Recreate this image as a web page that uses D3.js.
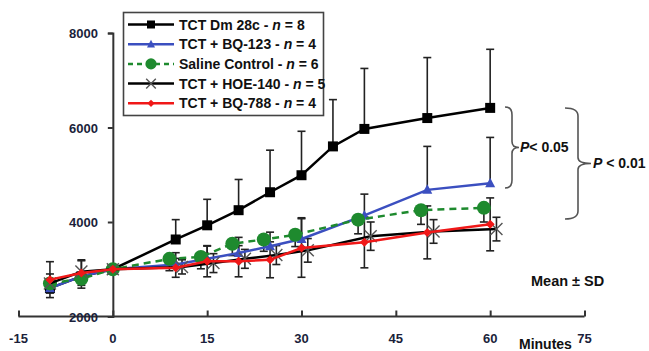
<!DOCTYPE html>
<html>
<head>
<meta charset="utf-8">
<script src="https://cdn.jsdelivr.net/npm/d3@7"></script>
<style>
  html, body { margin: 0; padding: 0; background: #fff; }
  svg text { font-family: "Liberation Sans", Arial, sans-serif; font-weight: bold; }
</style>
</head>
<body>
<svg id="chart" width="649" height="351"></svg>
<script>
// ---- data ----
const xTicks = [-15, 0, 15, 30, 45, 60, 75];
const yTicks = [2000, 4000, 6000, 8000];

const dmTimes = [-10, -5, 0, 10, 15, 20, 25, 30, 35, 40, 50, 60];
const dmValues = [2600, 2850, 3000, 3630, 3930, 4250, 4630, 4990, 5600, 5970, 6200, 6415];
const dmSD = [0, 0, 0, 420, 550, 650, 890, 930, 990, 1280, 1280, 1240];

const bq123Times = [-10, -5, 0, 10, 15, 20, 25, 30, 40, 50, 60];
const bq123Values = [2600, 2850, 3000, 3100, 3220, 3345, 3485, 3640, 4140, 4680, 4820];
const bq123SD = [0, 0, 0, 250, 270, 330, 300, 450, 450, 920, 970];

const salineTimes = [-10, -5, 0, 9, 14, 19, 24, 29, 39, 49, 59];
const salineValues = [2700, 2800, 3000, 3220, 3260, 3540, 3630, 3730, 4050, 4250, 4300];
const salineSD = [200, 200, 0, 250, 250, 250, 250, 250, 300, 300, 300];

const hoeTimes = [-10, -5, 0, 11, 16, 21, 26, 31, 41, 51, 61];
const hoeValues = [2700, 2950, 3000, 3050, 3130, 3220, 3300, 3400, 3700, 3800, 3850];
const hoeSD = [200, 250, 0, 150, 200, 200, 200, 250, 300, 250, 250];

const bq788Times = [-10, -5, 0, 10, 15, 20, 25, 30, 40, 50, 60];
const bq788Values = [2780, 2920, 3000, 3030, 3170, 3170, 3200, 3450, 3570, 3780, 3950];
const bq788SD = [380, 260, 0, 200, 330, 330, 380, 620, 540, 560, 560];

const seriesNames = ["TCT Dm 28c", "TCT + BQ-123", "Saline Control", "TCT + HOE-140", "TCT + BQ-788"];
const seriesN = [8, 4, 6, 5, 4];

// ---- series styling ----
const series = [
  { name: seriesNames[0], n: seriesN[0], t: dmTimes, v: dmValues, sd: dmSD, dir: "up",
    color: "#000", marker: "square", dash: null },
  { name: seriesNames[1], n: seriesN[1], t: bq123Times, v: bq123Values, sd: bq123SD, dir: "up",
    color: "#3b4fc0", marker: "triangle", dash: null },
  { name: seriesNames[2], n: seriesN[2], t: salineTimes, v: salineValues, sd: salineSD, dir: "down",
    color: "#1e8a2e", marker: "circle", dash: "7,5" },
  { name: seriesNames[3], n: seriesN[3], t: hoeTimes, v: hoeValues, sd: hoeSD, dir: "both",
    color: "#000", marker: "x", dash: null },
  { name: seriesNames[4], n: seriesN[4], t: bq788Times, v: bq788Values, sd: bq788SD, dir: "both",
    color: "#f01818", marker: "diamond", dash: null }
];

const svg = d3.select("#chart");
const x = d3.scaleLinear().domain([-15, 75]).range([18.5, 584.5]);
const y = d3.scaleLinear().domain([2000, 8000]).range([316.5, 33]);
const axisColor = "#333";
const labelColor = "#1b1f3b";

// ---- axes ----
const xAxis = svg.append("g").attr("transform", `translate(0,${y(2000)})`)
  .call(d3.axisTop(x).tickValues(xTicks).tickSize(6).tickFormat(""));
xAxis.select(".domain").attr("d", `M${x(-15)},0V0H${x(75)}V0`);
xAxis.selectAll("line, path").attr("stroke", axisColor).attr("stroke-width", 2);

svg.append("g").selectAll("text").data(xTicks).join("text")
  .attr("x", d => x(d)).attr("y", 343)
  .attr("text-anchor", "middle").attr("font-size", 13).attr("fill", labelColor)
  .text(d => d);

const yAxis = svg.append("g").attr("transform", `translate(${x(0)},0)`)
  .call(d3.axisLeft(y).tickValues(yTicks).tickSize(5).tickFormat(""));
yAxis.selectAll("line, path").attr("stroke", axisColor).attr("stroke-width", 2);

svg.append("g").selectAll("text").data(yTicks).join("text")
  .attr("x", 98).attr("y", d => y(d) + 5)
  .attr("text-anchor", "end").attr("font-size", 13).attr("fill", labelColor)
  .text(d => d);

svg.append("text").attr("x", 519).attr("y", 349).attr("font-size", 14).attr("fill", "#111").text("Minutes");

// ---- error bars ----
const cap = 4;
series.forEach(s => {
  const g = svg.append("g");
  s.t.forEach((t, i) => {
    if (!s.sd[i]) return;
    const cx = x(t);
    const top = s.dir === "down" ? s.v[i] : s.v[i] + s.sd[i];
    const bot = s.dir === "up" ? s.v[i] : s.v[i] - s.sd[i];
    g.append("line").attr("x1", cx).attr("x2", cx).attr("y1", y(top)).attr("y2", y(bot))
      .attr("stroke", "#222").attr("stroke-width", 1.6);
    if (s.dir !== "down")
      g.append("line").attr("x1", cx - cap).attr("x2", cx + cap).attr("y1", y(top)).attr("y2", y(top))
        .attr("stroke", "#222").attr("stroke-width", 1.6);
    if (s.dir !== "up")
      g.append("line").attr("x1", cx - cap).attr("x2", cx + cap).attr("y1", y(bot)).attr("y2", y(bot))
        .attr("stroke", "#222").attr("stroke-width", 1.6);
  });
});

// ---- markers ----
function drawMarker(g, type, cx, cy, color, scale) {
  const k = scale || 1;
  if (type === "square") {
    g.append("rect").attr("x", cx - 5 * k).attr("y", cy - 5 * k).attr("width", 10 * k).attr("height", 10 * k).attr("fill", color);
  } else if (type === "triangle") {
    g.append("path").attr("d", `M${cx},${cy - 5.5 * k}L${cx + 5 * k},${cy + 4 * k}L${cx - 5 * k},${cy + 4 * k}Z`).attr("fill", color);
  } else if (type === "circle") {
    g.append("circle").attr("cx", cx).attr("cy", cy).attr("r", 7 * k).attr("fill", color);
  } else if (type === "diamond") {
    g.append("path").attr("d", `M${cx},${cy - 4.5 * k}L${cx + 4.5 * k},${cy}L${cx},${cy + 4.5 * k}L${cx - 4.5 * k},${cy}Z`).attr("fill", color);
  } else if (type === "x") {
    const r = 6 * k;
    g.append("path").attr("d", `M${cx - r},${cy - r}L${cx + r},${cy + r}M${cx - r},${cy + r}L${cx + r},${cy - r}`)
      .attr("stroke", "#555").attr("stroke-width", 1.4).attr("fill", "none");
  }
}

// ---- lines and markers ----
const line = d3.line().x(d => x(d[0])).y(d => y(d[1]));
series.forEach(s => {
  const g = svg.append("g");
  const pts = s.t.map((t, i) => [t, s.v[i]]);
  g.append("path").datum(pts).attr("d", line)
    .attr("fill", "none").attr("stroke", s.color).attr("stroke-width", 2.5)
    .attr("stroke-dasharray", s.dash);
  pts.forEach(p => drawMarker(g, s.marker, x(p[0]), y(p[1]), s.color));
});

// ---- legend ----
const legend = svg.append("g");
legend.append("rect").attr("x", 123.5).attr("y", 12.5).attr("width", 200).attr("height", 103)
  .attr("fill", "#fff").attr("stroke", "#444").attr("stroke-width", 1.6);
series.forEach((s, i) => {
  const ly = 24.5 + i * 19.7;
  legend.append("line").attr("x1", 128).attr("x2", 174).attr("y1", ly).attr("y2", ly)
    .attr("stroke", s.color).attr("stroke-width", 2.5).attr("stroke-dasharray", s.dash ? "5,4" : null);
  drawMarker(legend, s.marker, 151, ly, s.color, 0.8);
  const txt = legend.append("text").attr("x", 179).attr("y", ly + 5).attr("font-size", 14).attr("fill", "#111");
  txt.append("tspan").text(`${s.name} - `);
  txt.append("tspan").attr("font-style", "italic").text("n");
  txt.append("tspan").text(` = ${s.n}`);
});

// ---- significance brackets ----
function brace(x0, y0, y1, w) {
  const ym = (y0 + y1) / 2;
  return `M${x0},${y0} Q${x0 + w},${y0} ${x0 + w},${y0 + 8} L${x0 + w},${ym - 6} Q${x0 + w},${ym} ${x0 + w * 2},${ym}` +
    ` M${x0 + w * 2},${ym} Q${x0 + w},${ym} ${x0 + w},${ym + 6} L${x0 + w},${y1 - 8} Q${x0 + w},${y1} ${x0},${y1}`;
}
svg.append("path").attr("d", brace(505, 107, 188, 7)).attr("fill", "none").attr("stroke", "#555").attr("stroke-width", 1.6);
svg.append("path").attr("d", brace(565, 108, 219, 13)).attr("fill", "none").attr("stroke", "#555").attr("stroke-width", 1.6);

function pLabel(px, py, rest) {
  const t = svg.append("text").attr("x", px).attr("y", py).attr("font-size", 14).attr("fill", "#111");
  t.append("tspan").attr("font-style", "italic").text("P");
  t.append("tspan").text(rest);
}
pLabel(520, 152, "< 0.05");
pLabel(593, 168, " < 0.01");

svg.append("text").attr("x", 531).attr("y", 286).attr("font-size", 14.5).attr("fill", "#111").text("Mean ± SD");
</script>
</body>
</html>
